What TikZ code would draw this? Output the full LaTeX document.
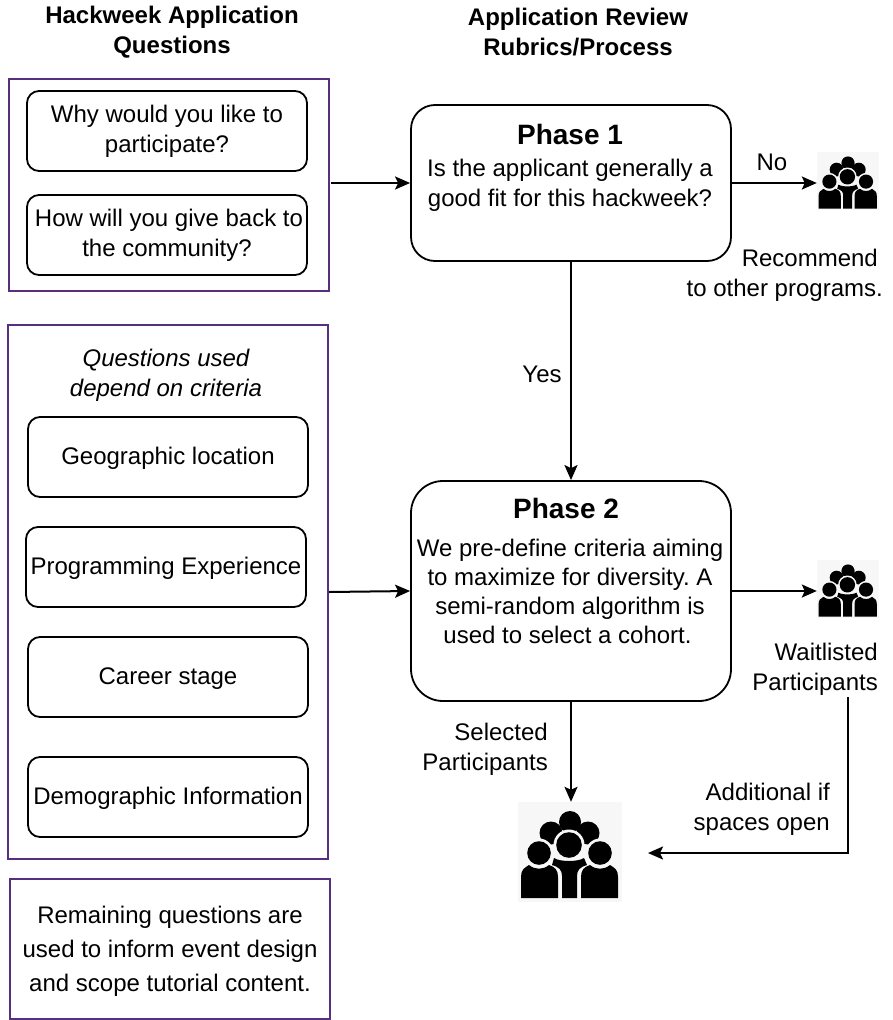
\documentclass[tikz,border=0pt]{standalone}
\usepackage{fontspec}
\setmainfont{Liberation Sans}
\usetikzlibrary{arrows.meta}
\definecolor{frame}{HTML}{56307F}
\frenchspacing
\tikzset{
  x=1pt,y=-1pt,
  txt/.style={align=center,inner sep=0pt,font=\fontsize{24}{30}\selectfont},
  head/.style={txt,font=\fontsize{24}{30}\selectfont\bfseries},
  title/.style={txt,font=\fontsize{28}{30}\selectfont\bfseries},
  group/.style={draw=frame,line width=1.8pt,inner sep=0pt,minimum width=320pt},
  qbox/.style={txt,draw=black,line width=1.8pt,rounded corners=12pt,minimum width=280pt,minimum height=80pt},
  qline/.style={qbox,text height=19pt,text depth=5pt},
  phase/.style={draw=black,line width=1.8pt,inner sep=0pt,minimum width=320pt},
  conn/.style={draw=black,line width=2pt,-{Stealth[length=15pt,width=13pt,inset=3pt]}},
  iconbg/.style={inner sep=0pt,fill=black!3},
}
% crowd icon, drawn in a 104 x 100 cell around its centre
\newcommand{\crowdicon}[2]{%
  \begin{scope}[shift={(#1)},x=#2pt,y=-#2pt]
    \fill[black] (0,-30) circle (11);
    \fill[black] (-19,-19) circle (11.5);
    \fill[black] (18,-19) circle (11.5);
    \fill[black!3] (-1,-7) circle (15.5);
    \fill[black] (-1,-7) circle (12.8);
    \fill[black!3] (-31,1) circle (14.5);
    \fill[black!3] (30,1) circle (14.5);
    \fill[black] (-31,1) circle (11.8);
    \fill[black] (30,1) circle (11.8);
    \fill[black] (-16,6) .. controls (-10,10) and (8,10) .. (14,6) -- (17,13)
      .. controls (10,15) and (7,18) .. (7,24) -- (7,46) -- (-8,46) -- (-8,24)
      .. controls (-8,18) and (-11,15) .. (-18,13) -- cycle;
    \fill[black] (-49,46) -- (-49,25) .. controls (-49,18) and (-46,16) .. (-41,13)
      .. controls (-35,18) and (-27,18) .. (-21,13) .. controls (-15,15) and (-12,18) .. (-12,25) -- (-12,46) -- cycle;
    \fill[black] (48,46) -- (48,25) .. controls (48,18) and (45,16) .. (40,13)
      .. controls (34,18) and (26,18) .. (20,13) .. controls (14,15) and (11,18) .. (11,25) -- (11,46) -- cycle;
  \end{scope}}
\begin{document}
\begin{tikzpicture}
\useasboundingbox (0,0) rectangle (892,1020);
% headings
\node[head] (h1) at (172,32.5) {Hackweek Application\\Questions};
\node[head] (h2) at (578,32.5) {Application Review\\Rubrics/Process};
% question groups
\node[group,minimum height=212pt] (g1) at (169,185) {};
\node[group,minimum height=534pt] (g2) at (168,592) {};
\node[group,minimum height=140pt] (g3) at (170,949) {};
\node[qbox] (q1) at (167,131) {Why would you like to\\participate?};
\node[qbox] (q2) at (167,235) {\hspace*{4pt}How will you give back to\\the community?};
\node[txt,font=\fontsize{24}{30}\selectfont\itshape] (crit) at (166,375) {Questions used\\depend on criteria};
\node[qline] (q3) at (168,457) {Geographic location};
\node[qline] (q4) at (166,567) {Programming Experience};
\node[qline] (q5) at (168,677) {Career stage};
\node[qline] (q6) at (168,797) {Demographic Information};
\node[txt,font=\fontsize{24}{34}\selectfont] (rest) at (170,951.5) {Remaining questions are\\used to inform event design\\and scope tutorial content.};
% phases
\node[phase,rounded corners=24pt,minimum height=156pt] (p1) at (571,183) {};
\node[phase,rounded corners=32pt,minimum height=220pt] (p2) at (571,591) {};
\node[title] (p1t) at (570,134.5) {Phase 1};
\node[txt] (p1b) at (570,185) {Is the applicant generally a\\good fit for this hackweek?};
\node[title] (p2t) at (566,508.5) {Phase 2};
\node[txt,font=\fontsize{24}{29}\selectfont] (p2b) at (570,591.5) {We pre-define criteria aiming\\to maximize for diversity. A\\semi-random algorithm is\\used to select a cohort.\hspace*{5pt}};
% icons
\node[iconbg,minimum width=62pt,minimum height=58pt] (i1) at (848,181) {};
\node[iconbg,minimum width=62pt,minimum height=58pt] (i2) at (848,589) {};
\node[iconbg,minimum width=104pt,minimum height=100pt] (i3) at (570,852) {};
\crowdicon{i1}{0.6}
\crowdicon{i2}{0.6}
\crowdicon{i3}{1}
% labels
\node[txt] (no) at (772,162) {No};
\node[txt,align=right,anchor=east] (rec) at (883,275.5) {Recommend\hspace*{5pt}\\to other programs.};
\node[txt] (yes) at (542,374) {Yes};
\node[txt,align=right,anchor=east] (wait) at (878,669) {Waitlisted\\Participants};
\node[txt,align=right,anchor=east] (sel) at (548,749) {Selected\\Participants};
\node[txt,align=right,anchor=east] (add) at (830,809) {Additional if\\spaces open};
% connectors
\coordinate (g1e) at (331,183);
\coordinate (g2e) at (329,592);
\coordinate (we) at (848,697);
\coordinate (i3e) at (648,853);
\draw[conn] (g1e) -- (g1e -| p1.west);
\draw[conn] (g2e) -- (p2.west);
\draw[conn] (p1.east) -- (i1.west |- p1.east);
\draw[conn] (p2.east) -- (i2.west |- p2.east);
\draw[conn] (p1.south) -- (p2.north);
\draw[conn] (p2.south) -- (p2.south |- i3.north);
\draw[conn] (we) -- (we |- i3e) -- (i3e);
\end{tikzpicture}
\end{document}
